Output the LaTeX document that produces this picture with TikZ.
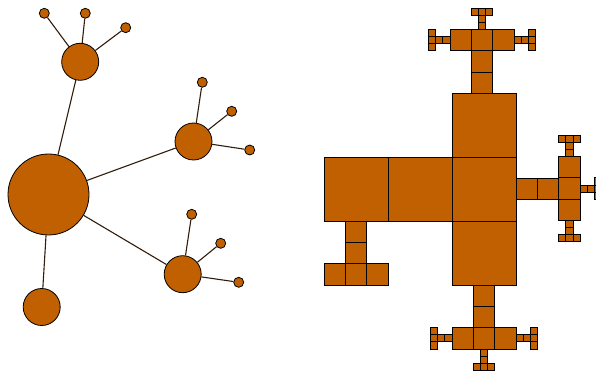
\documentclass[tikz,border=0pt]{standalone}
\definecolor{cfill}{RGB}{192,96,0}
\definecolor{edgec}{RGB}{50,28,10}
\newcommand{\msq}[3]{\draw[sq] (#1,#2) rectangle ++(#3,#3);}
\begin{document}
\begin{tikzpicture}[x=1pt,y=-1pt,
  nd/.style={circle,draw=black,fill=cfill,line width=0.8pt,inner sep=0pt},
  big/.style={nd,minimum size=81pt},
  mid/.style={nd,minimum size=37pt},
  leaf/.style={nd,minimum size=10pt},
  edge/.style={draw=edgec,line width=1.1pt},
  sq/.style={draw=black,fill=cfill,line width=0.8pt}]
\useasboundingbox (0,0) rectangle (596,371);
% ---------- left: node-link tree ----------
\node[big] (r) at (48.5,194.5) {};
\node[mid] (a) at (80.2,61.8) {};
\node[mid] (b) at (193.5,141.5) {};
\node[mid] (c) at (182.7,274.2) {};
\node[mid] (d) at (41.7,307) {};
\node[leaf] (a1) at (44.3,13.3) {};
\node[leaf] (a2) at (85.3,13.3) {};
\node[leaf] (a3) at (125.7,27.7) {};
\node[leaf] (b1) at (202.3,82.3) {};
\node[leaf] (b2) at (231.7,111.3) {};
\node[leaf] (b3) at (249.7,150) {};
\node[leaf] (c1) at (191.7,214.3) {};
\node[leaf] (c2) at (220.7,243.3) {};
\node[leaf] (c3) at (238.7,282.3) {};
\foreach \p/\q in {r/a,r/b,r/c,r/d,a/a1,a/a2,a/a3,b/b1,b/b2,b/b3,c/c1,c/c2,c/c3}
  \draw[edge] (\p) -- (\q);
% ---------- right: square layout ----------
% big squares
\msq{452}{157}{64} \msq{452}{93}{64} \msq{452}{221}{64}
\msq{388}{157}{64} \msq{324}{157}{64}
% left arm
\msq{345.33}{221}{21.33} \msq{345.33}{242.33}{21.33}
\msq{324}{263.67}{21.33} \msq{345.33}{263.67}{21.33} \msq{366.67}{263.67}{21.33}
% down arm
\msq{473.33}{285}{21.33} \msq{473.33}{306.33}{21.33}
\msq{452}{327.67}{21.33} \msq{473.33}{327.67}{21.33} \msq{494.67}{327.67}{21.33}
\msq{444.89}{334.78}{7.11} \msq{437.78}{334.78}{7.11}
\msq{430.67}{327.67}{7.11} \msq{430.67}{334.78}{7.11} \msq{430.67}{341.89}{7.11}
\msq{516}{334.78}{7.11} \msq{523.11}{334.78}{7.11}
\msq{530.22}{327.67}{7.11} \msq{530.22}{334.78}{7.11} \msq{530.22}{341.89}{7.11}
\msq{480.44}{349}{7.11} \msq{480.44}{356.11}{7.11}
\msq{473.33}{363.22}{7.11} \msq{480.44}{363.22}{7.11} \msq{487.56}{363.22}{7.11}
% up arm
\begin{scope}[shift={(-2,0.5)}]
\msq{473.33}{71.67}{21.33} \msq{473.33}{50.33}{21.33}
\msq{452}{29}{21.33} \msq{473.33}{29}{21.33} \msq{494.67}{29}{21.33}
\msq{444.89}{36.11}{7.11} \msq{437.78}{36.11}{7.11}
\msq{430.67}{29}{7.11} \msq{430.67}{36.11}{7.11} \msq{430.67}{43.22}{7.11}
\msq{516}{36.11}{7.11} \msq{523.11}{36.11}{7.11}
\msq{530.22}{29}{7.11} \msq{530.22}{36.11}{7.11} \msq{530.22}{43.22}{7.11}
\msq{480.44}{21.89}{7.11} \msq{480.44}{14.78}{7.11}
\msq{473.33}{7.67}{7.11} \msq{480.44}{7.67}{7.11} \msq{487.56}{7.67}{7.11}
\end{scope}
% right arm
\msq{516}{178.33}{21.33} \msq{537.33}{178.33}{21.33}
\msq{558.67}{156.5}{21.33} \msq{558.67}{177.83}{21.33} \msq{558.67}{199.17}{21.33}
\msq{565.78}{149.39}{7.11} \msq{565.78}{142.28}{7.11}
\msq{558.67}{135.17}{7.11} \msq{565.78}{135.17}{7.11} \msq{572.89}{135.17}{7.11}
\msq{565.78}{220.5}{7.11} \msq{565.78}{227.61}{7.11}
\msq{558.67}{234.72}{7.11} \msq{565.78}{234.72}{7.11} \msq{572.89}{234.72}{7.11}
\msq{580}{185.0}{7.11} \msq{587.11}{185.0}{7.11}
\msq{594.22}{177.89}{7.11} \msq{594.22}{185.0}{7.11} \msq{594.22}{192.11}{7.11}
\end{tikzpicture}
\end{document}
